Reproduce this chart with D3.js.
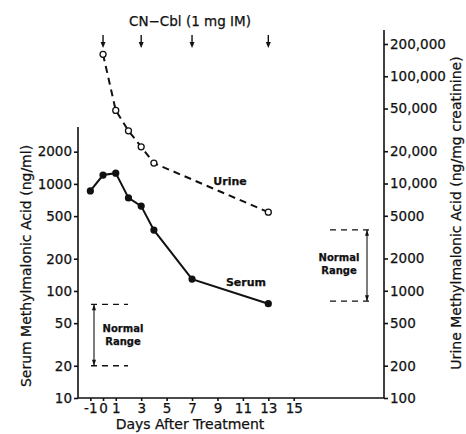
<!DOCTYPE html>
<html>
<head>
    <meta http-equiv="content-type" content="text/html; charset=UTF-8">
    <script type="text/javascript" src="https://cdn.jsdelivr.net/npm/d3@7"></script>
</head>
<body style="margin:0;background:#fff">

<style>
    text {
        font-family: "DejaVu Sans", sans-serif;
        fill: #111;
        stroke: #111;
        stroke-width: 0.25px;
    }
    .tick line, .frame {
        stroke: #111;
        stroke-width: 1.6px;
    }
</style>

<script type="text/javascript">
    // days after treatment and measured values
    var serumDays = [-1, 0, 1, 2, 3, 4, 7, 13];
    var serumValues = [860, 1210, 1260, 740, 620, 370, 129, 76];   // ng/ml
    var urineDays = [0, 1, 2, 3, 4, 13];
    var urineValues = [160000, 48000, 31000, 22000, 15500, 5400];   // ng/mg creatinine
    var doseDays = [0, 3, 7, 13];

    var xTicks = [-1, 0, 1, 3, 5, 7, 9, 11, 13, 15];
    var leftTicks = [10, 20, 50, 100, 200, 500, 1000, 2000];
    var rightTicks = [100, 200, 500, 1000, 2000, 5000, 10000, 20000, 50000, 100000, 200000];

    var serumNormal = [20, 75];
    var urineNormal = [800, 3700];

    var width = 466, height = 434;

    var svg = d3.select("body").append("svg")
        .attr("width", width)
        .attr("height", height);

    var x = d3.scaleLinear().domain([-1.97, 22.1]).range([78, 384]);
    var yL = d3.scaleLog().domain([10, 3400]).range([398, 127]);
    var yR = d3.scaleLog().domain([100, 270000]).range([398, 30]);

    var fmtR = function (d) {
        return d >= 10000 ? d3.format(",")(d) : String(d);
    };

    // frame
    svg.append("path").attr("class", "frame").attr("fill", "none")
        .attr("d", "M" + x.range()[0] + "," + yL(3400) + "V" + yL(10) + "H" + x.range()[1] + "V" + yR(270000));

    var gx = svg.append("g").attr("transform", "translate(0," + yL(10) + ")")
        .call(d3.axisBottom(x).tickValues(xTicks).tickSize(3).tickPadding(2)
            .tickFormat(String));
    var gl = svg.append("g").attr("transform", "translate(" + x.range()[0] + ",0)")
        .call(d3.axisLeft(yL).tickValues(leftTicks).tickSize(4).tickPadding(2).tickFormat(String));
    var gr = svg.append("g").attr("transform", "translate(" + x.range()[1] + ",0)")
        .call(d3.axisRight(yR).tickValues(rightTicks).tickSize(4).tickPadding(2).tickFormat(fmtR));

    [gx, gl, gr].forEach(function (g) {
        g.select(".domain").remove();
        g.selectAll("text").attr("font-size", 13.5).attr("font-family", "DejaVu Sans").attr("fill", "#111");
    });

    // axis titles
    svg.append("text").attr("x", 190).attr("y", 429).attr("text-anchor", "middle")
        .attr("font-size", 14).text("Days After Treatment");
    svg.append("text").attr("transform", "translate(31,266) rotate(-90)").attr("text-anchor", "middle")
        .attr("font-size", 14).text("Serum Methylmalonic Acid (ng/ml)");
    svg.append("text").attr("transform", "translate(461,213) rotate(-90)").attr("text-anchor", "middle")
        .attr("font-size", 14).text("Urine Methylmalonic Acid (ng/mg creatinine)");

    // dose arrows
    svg.append("text").attr("x", 190).attr("y", 26).attr("text-anchor", "middle")
        .attr("font-size", 13.5).text("CN\u2212Cbl (1 mg IM)");
    var arrows = svg.selectAll(".dose").data(doseDays).enter().append("g")
        .attr("transform", function (d) { return "translate(" + x(d) + ",0)"; });
    arrows.append("line").attr("y1", 35).attr("y2", 45).attr("stroke", "#111").attr("stroke-width", 1.4);
    arrows.append("path").attr("d", "M-2.5,42L0,48L2.5,42Z").attr("fill", "#111");

    // urine series
    var urine = urineDays.map(function (d, i) { return [d, urineValues[i]]; });
    svg.append("path").datum(urine)
        .attr("fill", "none").attr("stroke", "#111").attr("stroke-width", 2)
        .attr("stroke-dasharray", "7,5")
        .attr("d", d3.line().x(function (d) { return x(d[0]); }).y(function (d) { return yR(d[1]); }));
    svg.selectAll(".uPt").data(urine).enter().append("circle")
        .attr("cx", function (d) { return x(d[0]); })
        .attr("cy", function (d) { return yR(d[1]); })
        .attr("r", 3).attr("fill", "#fff").attr("stroke", "#111").attr("stroke-width", 1.3);

    // serum series
    var serum = serumDays.map(function (d, i) { return [d, serumValues[i]]; });
    svg.append("path").datum(serum)
        .attr("fill", "none").attr("stroke", "#111").attr("stroke-width", 2)
        .attr("d", d3.line().x(function (d) { return x(d[0]); }).y(function (d) { return yL(d[1]); }));
    svg.selectAll(".sPt").data(serum).enter().append("circle")
        .attr("cx", function (d) { return x(d[0]); })
        .attr("cy", function (d) { return yL(d[1]); })
        .attr("r", 3.6).attr("fill", "#111");

    svg.append("text").attr("x", 230).attr("y", 185).attr("text-anchor", "middle")
        .attr("font-size", 11).attr("font-weight", "bold").text("Urine");
    svg.append("text").attr("x", 246).attr("y", 286).attr("text-anchor", "middle")
        .attr("font-size", 11).attr("font-weight", "bold").text("Serum");

    // normal ranges
    function normalRange(scale, range, x0, x1, xa, tx, ty) {
        var g = svg.append("g");
        range.forEach(function (v) {
            g.append("line").attr("x1", x0).attr("x2", x1)
                .attr("y1", scale(v)).attr("y2", scale(v))
                .attr("stroke", "#111").attr("stroke-width", 1.3).attr("stroke-dasharray", "6,5");
        });
        var yb = scale(range[0]), yt = scale(range[1]);
        g.append("line").attr("x1", xa).attr("x2", xa).attr("y1", yt).attr("y2", yb)
            .attr("stroke", "#111").attr("stroke-width", 1.1);
        g.append("path").attr("fill", "#111")
            .attr("d", "M" + (xa - 2) + "," + (yt + 6) + "L" + xa + "," + yt + "L" + (xa + 2) + "," + (yt + 6) + "Z" +
                "M" + (xa - 2) + "," + (yb - 6) + "L" + xa + "," + yb + "L" + (xa + 2) + "," + (yb - 6) + "Z");
        g.append("text").attr("x", tx).attr("y", ty).attr("text-anchor", "middle")
            .attr("font-size", 10).attr("font-weight", "bold").text("Normal");
        g.append("text").attr("x", tx).attr("y", ty + 13).attr("text-anchor", "middle")
            .attr("font-size", 10).attr("font-weight", "bold").text("Range");
    }
    normalRange(yL, serumNormal, 91, 128, 94, 123, 332);
    normalRange(yR, urineNormal, 330, 371, 367, 339, 261);
</script>
</body>
</html>
